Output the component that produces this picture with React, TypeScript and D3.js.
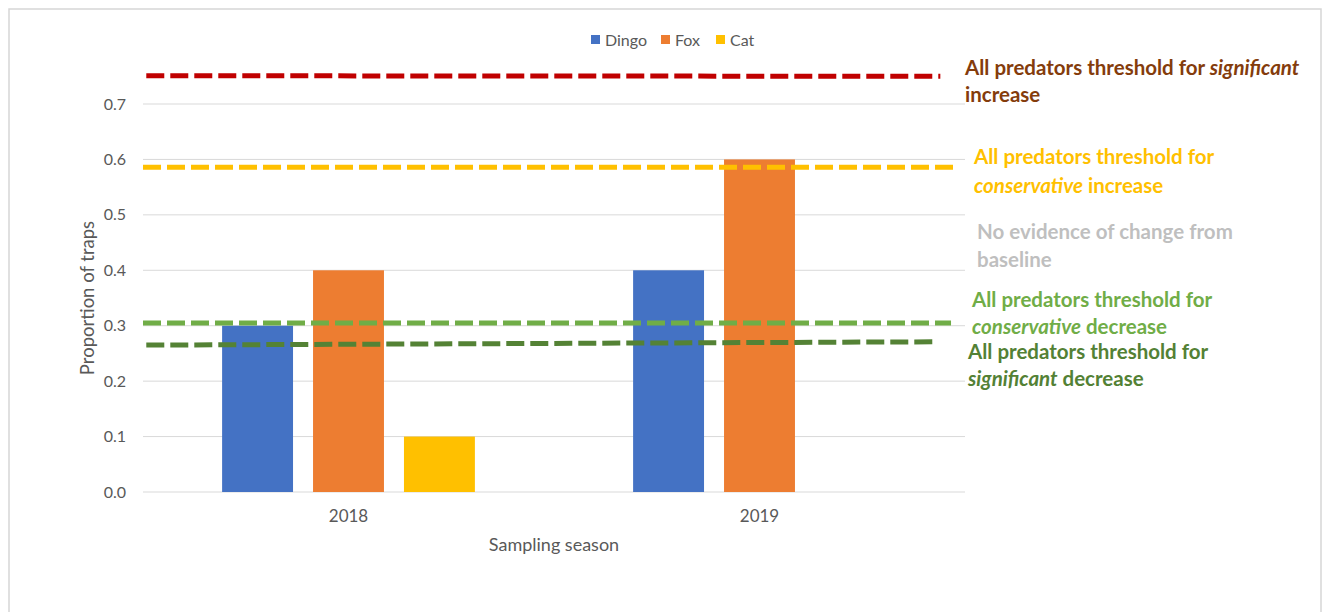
import React from "react";
import * as d3 from "d3";

const seasons = ["2018", "2019"];
const species = ["Dingo", "Fox", "Cat"];
const dingoValues = [0.3, 0.4];
const foxValues = [0.4, 0.6];
const catValues = [0.1, 0];
const yTicks = [0, 0.1, 0.2, 0.3, 0.4, 0.5, 0.6, 0.7];

// threshold lines: value at left end / right end, and extent as fraction of plot width
const thresholdNames = ["sigInc", "consInc", "consDec", "sigDec"];
const thresholdStart = [0.751, 0.586, 0.305, 0.265];
const thresholdEnd = [0.75, 0.586, 0.305, 0.271];
const thresholdFrom = [0.004, 0.0, 0.0, 0.004];
const thresholdTo = [0.97, 0.987, 0.983, 0.967];

const seriesColors = ["#4472C4", "#ED7D31", "#FFC000"];
const thresholdColors = ["#C00000", "#FFC000", "#70AD47", "#548235"];

const W = 1324;
const H = 612;
const margin = { top: 104, right: 359, bottom: 120, left: 143 };

export default function App() {
  const plotW = W - margin.left - margin.right;
  const plotH = H - margin.top - margin.bottom;

  const x0 = d3.scaleBand<string>().domain(seasons).range([margin.left, margin.left + plotW]).padding(0);
  const x1 = d3
    .scaleBand<string>()
    .domain(species)
    .range([0, x0.bandwidth()])
    .paddingInner(0.22)
    .paddingOuter(0.87);
  const y = d3.scaleLinear().domain([0, 0.7]).range([margin.top + plotH, margin.top]);
  const xf = d3.scaleLinear().domain([0, 1]).range([margin.left, margin.left + plotW]);

  const values = [dingoValues, foxValues, catValues];
  const font = "Lato, 'Open Sans', sans-serif";

  const legendX = [591, 661, 716];

  return (
    <svg
      width={W}
      height={H}
      style={{ position: "absolute", left: 0, top: 0, background: "#fff" }}
      fontFamily={font}
    >
      <rect x={9} y={9} width={1312} height={640} fill="none" stroke="#d6d6d6" strokeWidth={1.5} />

      {/* gridlines */}
      {yTicks.map((t) => (
        <line
          key={t}
          x1={margin.left}
          x2={margin.left + plotW}
          y1={y(t)}
          y2={y(t)}
          stroke="#d9d9d9"
          strokeWidth={1}
        />
      ))}

      {/* y tick labels */}
      {yTicks.map((t) => (
        <text key={t} x={126} y={y(t)} dy="0.35em" textAnchor="end" fontSize={16} fill="#595959">
          {d3.format(".1f")(t)}
        </text>
      ))}

      {/* bars */}
      {seasons.map((s, si) => (
        <g key={s} transform={`translate(${x0(s)},0)`}>
          {species.map((sp, k) =>
            values[k][si] > 0 ? (
              <rect
                key={sp}
                x={x1(sp)}
                y={y(values[k][si])}
                width={x1.bandwidth()}
                height={y(0) - y(values[k][si])}
                fill={seriesColors[k]}
              />
            ) : null
          )}
        </g>
      ))}

      {/* x tick labels */}
      {seasons.map((s) => (
        <text key={s} x={(x0(s) || 0) + x0.bandwidth() / 2} y={522} textAnchor="middle" fontSize={17} fill="#595959">
          {s}
        </text>
      ))}

      {/* threshold lines */}
      {thresholdNames.map((n, i) => (
        <line
          key={n}
          x1={xf(thresholdFrom[i])}
          x2={xf(thresholdTo[i])}
          y1={y(thresholdStart[i])}
          y2={y(thresholdEnd[i])}
          stroke={thresholdColors[i]}
          strokeWidth={5}
          strokeDasharray="18,6"
        />
      ))}

      {/* axis titles */}
      <text x={(margin.left + margin.left + plotW) / 2} y={551} textAnchor="middle" fontSize={18} fill="#595959">
        Sampling season
      </text>
      <text
        transform={`translate(94,298) rotate(-90)`}
        textAnchor="middle"
        fontSize={18.5}
        fill="#595959"
      >
        Proportion of traps
      </text>

      {/* legend */}
      {species.map((sp, k) => (
        <g key={sp}>
          <rect x={legendX[k]} y={35} width={9} height={9} fill={seriesColors[k]} />
          <text x={legendX[k] + 14} y={40} dy="0.35em" fontSize={16} fill="#595959">
            {sp}
          </text>
        </g>
      ))}

      {/* annotations */}
      <g fontWeight="bold" fontSize={20.5}>
        <text x={965} y={75} fill="#843C0C">
          All predators threshold for <tspan fontStyle="italic">significant</tspan>
        </text>
        <text x={965} y={102} fill="#843C0C">increase</text>

        <text x={974} y={164} fill="#FFC000">All predators threshold for</text>
        <text x={974} y={193} fill="#FFC000">
          <tspan fontStyle="italic">conservative</tspan> increase
        </text>

        <text x={977} y={239} fill="#BFBFBF">No evidence of change from</text>
        <text x={977} y={267} fill="#BFBFBF">baseline</text>

        <text x={972} y={307} fill="#70AD47">All predators threshold for</text>
        <text x={972} y={334} fill="#70AD47">
          <tspan fontStyle="italic">conservative</tspan> decrease
        </text>

        <text x={968} y={359} fill="#538135">All predators threshold for</text>
        <text x={968} y={386} fill="#538135">
          <tspan fontStyle="italic">significant</tspan> decrease
        </text>
      </g>
    </svg>
  );
}
